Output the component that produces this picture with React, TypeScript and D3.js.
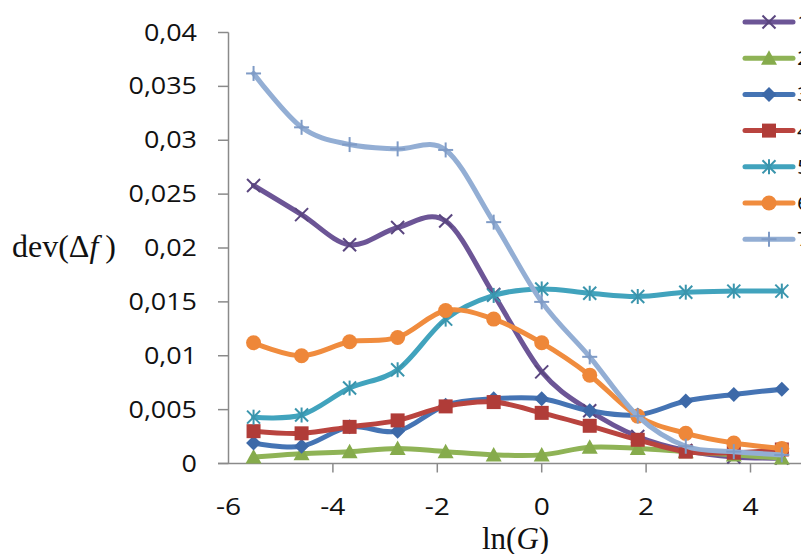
import React, { useEffect, useRef } from "react";
import * as d3 from "d3";

const xValues = [-5.52, -4.6, -3.68, -2.76, -1.84, -0.92, 0, 0.92, 1.84, 2.76, 3.68, 4.6];

const series1 = [0.0258, 0.0231, 0.0203, 0.0219, 0.0225, 0.0157, 0.0085, 0.0049, 0.0025, 0.0012, 0.0006, 0.0005];
const series2 = [0.0006, 0.0009, 0.0011, 0.0014, 0.0011, 0.0008, 0.0008, 0.0015, 0.0014, 0.0011, 0.0008, 0.0005];
const series3 = [0.0019, 0.0016, 0.0034, 0.003, 0.0054, 0.006, 0.006, 0.0049, 0.0045, 0.0058, 0.0064, 0.0069];
const series4 = [0.003, 0.0028, 0.0034, 0.004, 0.0053, 0.0057, 0.0047, 0.0035, 0.0022, 0.0011, 0.001, 0.0013];
const series5 = [0.0043, 0.0045, 0.007, 0.0087, 0.0134, 0.0156, 0.0162, 0.0158, 0.0155, 0.0159, 0.016, 0.016];
const series6 = [0.0112, 0.01, 0.0113, 0.0117, 0.0142, 0.0134, 0.0112, 0.0082, 0.0044, 0.0028, 0.0019, 0.0014];
const series7 = [0.0362, 0.0312, 0.0296, 0.0292, 0.0291, 0.0224, 0.015, 0.0099, 0.0044, 0.0016, 0.0011, 0.0008];

const seriesNames = ["1", "2", "3", "4", "5", "6", "7"];
const seriesColors = ["#6c5596", "#8fb356", "#4574b4", "#b9443f", "#41a3bd", "#f08c3e", "#93aed4"];
const markerColors = ["#5a467f", "#86ab4c", "#3d69a8", "#b03c38", "#3a95ad", "#ee8739", "#7f9bc6"];
const markerTypes = ["x", "triangle", "diamond", "square", "asterisk", "circle", "plus"];

const yTicks = [0, 0.005, 0.01, 0.015, 0.02, 0.025, 0.03, 0.035, 0.04];
const yTickLabels = ["0", "0,005", "0,01", "0,015", "0,02", "0,025", "0,03", "0,035", "0,04"];
const xTicks = [-6, -4, -2, 0, 2, 4];
const xTickLabels = ["-6", "-4", "-2", "0", "2", "4"];

const allSeries = [series1, series2, series3, series4, series5, series6, series7];

function drawMarker(g: any, type: string, cx: number, cy: number, color: string) {
  const s = 6.5;
  if (type === "x" || type === "asterisk" || type === "plus") {
    const lines: number[][] = [];
    if (type === "x" || type === "asterisk") {
      lines.push([-s, -s, s, s], [-s, s, s, -s]);
    }
    if (type === "asterisk" || type === "plus") {
      lines.push([0, -s - 1, 0, s + 1]);
    }
    if (type === "plus") {
      lines.push([-s - 1, 0, s + 1, 0]);
    }
    lines.forEach((l) => {
      g.append("line")
        .attr("x1", cx + l[0]).attr("y1", cy + l[1])
        .attr("x2", cx + l[2]).attr("y2", cy + l[3])
        .attr("stroke", color).attr("stroke-width", 2);
    });
  } else if (type === "triangle") {
    g.append("path")
      .attr("d", `M${cx},${cy - 8}L${cx + 8},${cy + 6.5}L${cx - 8},${cy + 6.5}Z`)
      .attr("fill", color);
  } else if (type === "diamond") {
    g.append("path")
      .attr("d", `M${cx},${cy - 7.5}L${cx + 7.5},${cy}L${cx},${cy + 7.5}L${cx - 7.5},${cy}Z`)
      .attr("fill", color);
  } else if (type === "square") {
    g.append("rect")
      .attr("x", cx - 7).attr("y", cy - 7).attr("width", 14).attr("height", 14)
      .attr("fill", color);
  } else if (type === "circle") {
    g.append("circle").attr("cx", cx).attr("cy", cy).attr("r", 7.5).attr("fill", color);
  }
}

export default function App() {
  const ref = useRef<SVGSVGElement>(null);

  useEffect(() => {
    const svg = d3.select(ref.current);
    svg.selectAll("*").remove();

    const x = d3.scaleLinear().domain([-6, 4]).range([228.5, 750.5]);
    const y = d3.scaleLinear().domain([0, 0.04]).range([463.5, 32.5]);
    const axisColor = "#8a8a8a";
    const sans = "Open Sans, Liberation Sans, sans-serif";

    // axes
    const ax = svg.append("g");
    ax.append("line").attr("x1", 218).attr("x2", 810).attr("y1", y(0)).attr("y2", y(0))
      .attr("stroke", axisColor).attr("stroke-width", 1.5);
    ax.append("line").attr("x1", x(-6)).attr("x2", x(-6)).attr("y1", y(0.04)).attr("y2", y(0))
      .attr("stroke", axisColor).attr("stroke-width", 1.5);
    yTicks.forEach((t, i) => {
      ax.append("line").attr("x1", 218).attr("x2", x(-6)).attr("y1", y(t)).attr("y2", y(t))
        .attr("stroke", axisColor).attr("stroke-width", 1.5);
      ax.append("text")
        .attr("transform", `translate(197,${y(t) + 8}) scale(1.17,1)`)
        .attr("text-anchor", "end")
        .attr("font-family", sans)
        .attr("font-size", 23)
        .attr("fill", "#111")
        .text(yTickLabels[i]);
    });
    xTicks.forEach((t, i) => {
      if (t !== -6) {
        ax.append("line").attr("x1", x(t)).attr("x2", x(t)).attr("y1", y(0)).attr("y2", y(0) + 9)
          .attr("stroke", axisColor).attr("stroke-width", 1.5);
      }
      ax.append("text")
        .attr("transform", `translate(${x(t)},515) scale(1.15,1)`)
        .attr("text-anchor", "middle")
        .attr("font-family", sans)
        .attr("font-size", 24.5)
        .attr("fill", "#111")
        .text(xTickLabels[i]);
    });

    // axis titles
    const yt = svg.append("text").attr("x", 12).attr("y", 257)
      .attr("font-family", "Liberation Serif, Times New Roman, serif")
      .attr("font-size", 32).attr("fill", "#111");
    yt.append("tspan").text("dev(Δ");
    yt.append("tspan").attr("font-style", "italic").text("f");
    yt.append("tspan").attr("dx", 7).text(")");

    const xt = svg.append("text").attr("x", 482).attr("y", 549)
      .attr("font-family", "Liberation Serif, Times New Roman, serif")
      .attr("font-size", 31).attr("fill", "#111");
    xt.append("tspan").text("ln(");
    xt.append("tspan").attr("font-style", "italic").text("G");
    xt.append("tspan").text(")");

    // series
    const line = d3.line<number>()
      .x((_, i) => x(xValues[i]))
      .y((d) => y(d))
      .curve(d3.curveCardinal.tension(0));

    allSeries.forEach((vals, si) => {
      const g = svg.append("g");
      g.append("path").attr("d", line(vals) as string)
        .attr("fill", "none").attr("stroke", seriesColors[si])
        .attr("stroke-width", 5).attr("stroke-linejoin", "round").attr("stroke-linecap", "round");
      vals.forEach((v, i) => drawMarker(g, markerTypes[si], x(xValues[i]), y(v), markerColors[si]));
    });

    // legend
    seriesNames.forEach((name, si) => {
      const ly = 22 + si * 36.2;
      const g = svg.append("g");
      g.append("line").attr("x1", 745).attr("x2", 793).attr("y1", ly).attr("y2", ly)
        .attr("stroke", seriesColors[si]).attr("stroke-width", 5).attr("stroke-linecap", "round");
      drawMarker(g, markerTypes[si], 769, ly, markerColors[si]);
      g.append("text")
        .attr("transform", `translate(797,${ly + 7}) scale(1.15,1)`)
        .attr("font-family", sans)
        .attr("font-size", 20).attr("fill", "#111")
        .text(name);
    });
  }, []);

  return (
    <svg
      ref={ref}
      width={801}
      height={554}
      style={{ position: "absolute", left: 0, top: 0, background: "#fff" }}
    />
  );
}
